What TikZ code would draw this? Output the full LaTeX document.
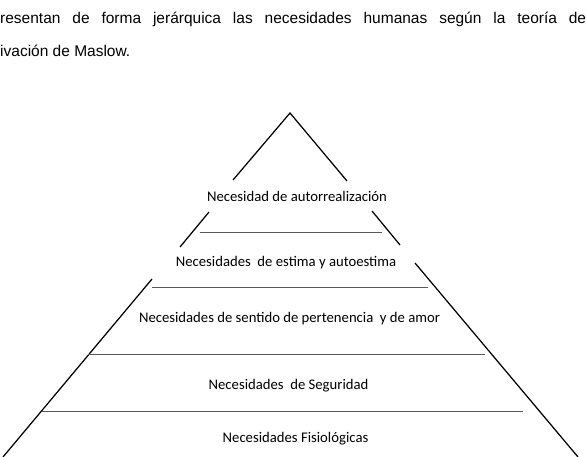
\documentclass[tikz,border=0pt]{standalone}
\usepackage{fontspec}
\setmainfont{Carlito}
\newfontfamily\arialfont{Liberation Sans}
\begin{document}
\begin{tikzpicture}[x=1pt,y=-1pt,
  side/.style={line width=1.25pt, black},
  rule/.style={line width=0.8pt, black!65},
  lbl/.style={font=\fontsize{14.7}{17}\selectfont, inner sep=0pt, anchor=base},
  para/.style={font=\arialfont\fontsize{15.5}{18}\selectfont, inner sep=0pt, anchor=base west},
]
\useasboundingbox (0,0) rectangle (586,457);
\fill[white] (0,0) rectangle (586,457);

% paragraph text
\node[para] (p1) at (0,24) {\makebox[586pt][s]{resentan de forma jerárquica las necesidades humanas según la teoría de}};
\node[para] (p2) at (0,57) {ivación de Maslow.};

% pyramid side segments
\coordinate (apex) at (290,113);
\coordinate (a1l) at (233,180);
\coordinate (a1r) at (347,181);
\coordinate (b1l) at (209,212);
\coordinate (b2l) at (180,247);
\coordinate (b1r) at (372,211);
\coordinate (b2r) at (400,245);
\coordinate (c1l) at (152,279);
\coordinate (c2l) at (3,457);
\coordinate (c1r) at (415,263);
\coordinate (c2r) at (578,457);
\draw[side] (a1l) -- (apex) -- (a1r);
\draw[side] (b1l) -- (b2l);
\draw[side] (b1r) -- (b2r);
\draw[side] (c1l) -- (c2l);
\draw[side] (c1r) -- (c2r);

% horizontal dividers
\coordinate (h1l) at (200,232); \coordinate (h1r) at (382,232);
\coordinate (h2l) at (152,287); \coordinate (h2r) at (428,287);
\coordinate (h3l) at (88,354);  \coordinate (h3r) at (485,354);
\coordinate (h4l) at (42,411);  \coordinate (h4r) at (523,411);
\draw[rule] (h1l) -- (h1r);
\draw[rule] (h2l) -- (h2r);
\draw[rule] (h3l) -- (h3r);
\draw[rule] (h4l) -- (h4r);

% level labels
\node[lbl] (t1) at (297,201) {Necesidad de autorrealización};
\node[lbl] (t2) at (286,266) {Necesidades\ \ de estima y autoestima};
\node[lbl] (t3) at (289.5,322.5) {Necesidades de sentido de pertenencia\ \ y de amor};
\node[lbl] (t4) at (288.5,389.5) {Necesidades\ \ de Seguridad};
\node[lbl] (t5) at (295.5,442.5) {Necesidades Fisiológicas};
\end{tikzpicture}
\end{document}
